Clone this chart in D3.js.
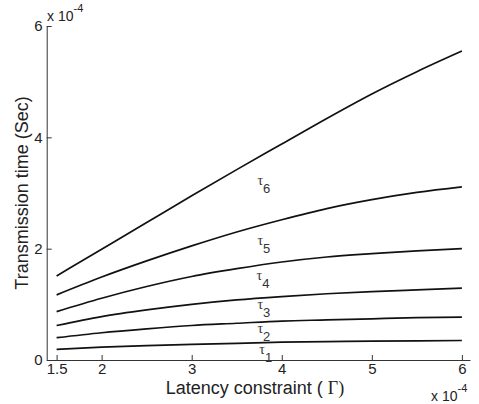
<!DOCTYPE html>
<html>
<head>
<meta charset="utf-8">
<script src="https://cdn.jsdelivr.net/npm/d3@7"></script>
<style>
  body { margin: 0; background: #fff; }
  svg { display: block; font-family: "Liberation Sans", Arial, sans-serif; }
  .axis path, .axis line { stroke: #333; stroke-width: 1; }
  .axis text { font-size: 15px; fill: #222; }
</style>
</head>
<body>
<div class="chart"></div>
<script>
// latency constraint (x 1e-4)
var latency = [1.5, 2, 2.5, 3, 3.5, 4, 4.5, 5, 5.5, 6];
// transmission time (x 1e-4 s), one array per tau
var tau1 = [0.19, 0.23, 0.26, 0.28, 0.30, 0.32, 0.33, 0.34, 0.345, 0.35];
var tau2 = [0.40, 0.49, 0.56, 0.62, 0.66, 0.70, 0.72, 0.74, 0.76, 0.77];
var tau3 = [0.62, 0.78, 0.90, 1.00, 1.08, 1.14, 1.19, 1.23, 1.26, 1.29];
var tau4 = [0.87, 1.11, 1.32, 1.50, 1.64, 1.76, 1.85, 1.91, 1.96, 2.00];
var tau5 = [1.17, 1.49, 1.78, 2.05, 2.30, 2.52, 2.72, 2.88, 3.01, 3.11];
var tau6 = [1.51, 1.99, 2.47, 2.95, 3.42, 3.88, 4.34, 4.78, 5.18, 5.55];
var xTicks = [1.5, 2, 3, 4, 5, 6];
var yTicks = [0, 2, 4, 6];
var seriesNames = ['1', '2', '3', '4', '5', '6'];
var series = [tau1, tau2, tau3, tau4, tau5, tau6];
// label positions (data units) for each tau label
var labelX = [3.75, 3.73, 3.73, 3.72, 3.73, 3.73];
var labelY = [0.10, 0.485, 0.91, 1.44, 2.07, 3.15];

var width = 479, height = 404;

var svg = d3.select('.chart').append('svg')
  .attr('width', width).attr('height', height);

var x = d3.scaleLinear().domain([1.39, 6.09]).range([46.7, 470]);
var y = d3.scaleLinear().domain([0, 6]).range([360, 26]);

svg.append('g').attr('class', 'axis')
  .attr('transform', 'translate(0,360)')
  .call(d3.axisBottom(x).tickValues(xTicks).tickFormat(d3.format('')).tickSizeInner(-5).tickSizeOuter(0).tickPadding(3));

svg.append('g').attr('class', 'axis')
  .attr('transform', 'translate(46.7,0)')
  .call(d3.axisLeft(y).tickValues(yTicks).tickFormat(d3.format('d')).tickSizeInner(-5).tickSizeOuter(0).tickPadding(4));

var line = d3.line()
  .x(function (d, i) { return x(latency[i]); })
  .y(function (d) { return y(d); })
  .curve(d3.curveMonotoneX);

svg.selectAll('.series').data(series).enter().append('path')
  .attr('class', 'series')
  .attr('d', line)
  .attr('fill', 'none')
  .attr('stroke', '#111')
  .attr('stroke-width', 1.7);

// tau labels
var labels = svg.selectAll('.tau').data(seriesNames).enter().append('text')
  .attr('class', 'tau')
  .attr('x', function (d, i) { return x(labelX[i]); })
  .attr('y', function (d, i) { return y(labelY[i]); })
  .attr('fill', '#333');
labels.append('tspan')
  .attr('font-family', '"Liberation Serif", "Times New Roman", serif')
  .attr('font-size', 14)
  .text('\u03c4');
labels.append('tspan')
  .attr('font-size', 13)
  .attr('dy', 8)
  .text(function (d) { return d; });

// axis titles
svg.append('text')
  .attr('x', 255).attr('y', 394)
  .attr('text-anchor', 'middle')
  .attr('font-size', 18).attr('fill', '#222')
  .text('Latency constraint ( ')
  .append('tspan')
  .attr('font-family', '"Liberation Serif", "Times New Roman", serif')
  .text('\u0393)');

svg.append('text')
  .attr('transform', 'translate(28,193) rotate(-90)')
  .attr('text-anchor', 'middle')
  .attr('font-size', 18).attr('fill', '#222')
  .text('Transmission time (Sec)');

// exponent labels
function exponent(px, py) {
  var t = svg.append('text').attr('x', px).attr('y', py).attr('font-size', 14).attr('fill', '#222');
  t.append('tspan').text('x 10');
  t.append('tspan').attr('dy', -9).attr('font-size', 11).text('-4');
}
exponent(47, 21);
exponent(431, 401);
</script>
</body>
</html>
